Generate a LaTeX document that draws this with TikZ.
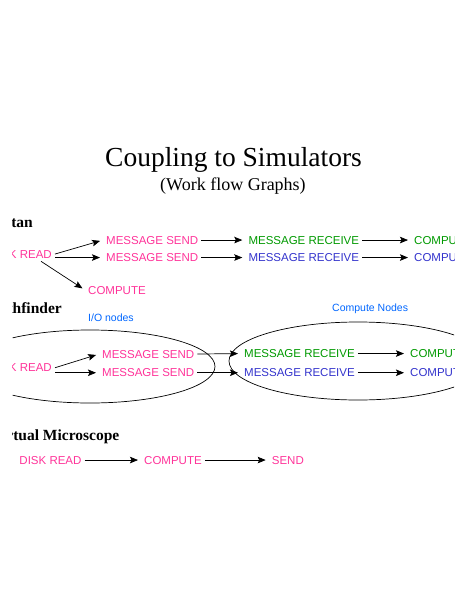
\documentclass[tikz,border=0pt]{standalone}
\usepackage{fontspec}
\setmainfont{Liberation Serif}
\setsansfont{Liberation Sans}
\usetikzlibrary{arrows.meta,shapes.geometric,calc}
\definecolor{sendpink}{RGB}{255,51,153}
\definecolor{recvgreen}{RGB}{0,153,0}
\definecolor{recvblue}{RGB}{51,51,204}
\definecolor{tagblue}{RGB}{0,102,255}

\begin{document}
\begin{tikzpicture}[x=1pt,y=-1pt,>={Stealth[length=8pt,width=6.5pt,inset=1.5pt]},
  task/.style={font=\sffamily\fontsize{11.5}{12}\selectfont,inner sep=3pt,anchor=base west},
  sendtask/.style={task,text=sendpink},
  greentask/.style={task,text=recvgreen},
  bluetask/.style={task,text=recvblue},
  head/.style={font=\bfseries\fontsize{15.5}{17}\selectfont,anchor=base east,inner sep=0pt},
  tag/.style={font=\sffamily\fontsize{10.5}{12}\selectfont,text=tagblue,anchor=base west,inner sep=0pt},
  group/.style={draw,ellipse,inner sep=0pt,line width=.7pt},
  flow/.style={->,line width=.7pt,shorten >=3pt}]
\useasboundingbox (0,0) rectangle (468,605);
\clip (12.5,0) rectangle (454,605);

\node[font=\fontsize{27.5}{30}\selectfont,anchor=base] (title) at (233.5,166) {Coupling to Simulators};
\node[font=\fontsize{18}{20}\selectfont,anchor=base] (subtitle) at (233,190) {(Work flow Graphs)};

% Titan
\node[head] (titan) at (33,227) {Titan};
\node[sendtask,anchor=base east] (rd1) at (55,258) {DISK READ};
\node[sendtask] (ms1a) at (103,244) {MESSAGE SEND};
\node[sendtask] (ms1b) at (103,261.5) {MESSAGE SEND};
\node[greentask] (mr1a) at (245.3,244) {MESSAGE RECEIVE};
\node[bluetask] (mr1b) at (245.3,261.5) {MESSAGE RECEIVE};
\node[greentask] (cp1a) at (411,244) {COMPUTE};
\node[bluetask] (cp1b) at (411,261.5) {COMPUTE};
\node[sendtask] (cmp1) at (85,294) {COMPUTE};
\draw[flow] (rd1.east) -- (ms1a.west);
\draw[flow] (rd1.east |- ms1b.west) -- (ms1b.west);
\draw[flow] ([xshift=-14pt]rd1.south east) -- (cmp1.west);
\draw[flow] (ms1a.east) -- (mr1a.west);
\draw[flow] (ms1b.east) -- (mr1b.west);
\draw[flow] (mr1a.east) -- (cp1a.west);
\draw[flow] (mr1b.east) -- (cp1b.west);

% Pathfinder
\node[head] (pathf) at (62,313) {Pathfinder};
\node[group,minimum width=250pt,minimum height=73pt] (ionodes) at (90,366.5) {};
\node[group,minimum width=258pt,minimum height=78pt] (cnodes) at (358,361) {};
\node[tag] (iotag) at (88,321) {I/O nodes};
\node[tag] (ctag) at (332,311.7) {Compute Nodes};
\node[sendtask,anchor=base east] (rd2) at (55,371.7) {DISK READ};
\node[sendtask] (ms2a) at (99,358) {MESSAGE SEND};
\node[sendtask] (ms2b) at (99,376.7) {MESSAGE SEND};
\node[greentask] (mr2a) at (241,357.5) {MESSAGE RECEIVE};
\node[bluetask] (mr2b) at (241,376.7) {MESSAGE RECEIVE};
\node[greentask] (cp2a) at (407,357.5) {COMPUTE};
\node[bluetask] (cp2b) at (407,376.7) {COMPUTE};
\draw[flow] (rd2.east) -- (ms2a.west);
\draw[flow] (rd2.east |- ms2b.west) -- (ms2b.west);
\draw[flow] (ms2a.east) -- (mr2a.west);
\draw[flow] (ms2b.east) -- (mr2b.west);
\draw[flow] (mr2a.east) -- (cp2a.west);
\draw[flow] (mr2b.east) -- (cp2b.west);

% Virtual Microscope
\node[head] (vmicro) at (119.5,440) {Virtual Microscope};
\node[sendtask] (rd3) at (16.3,464) {DISK READ};
\node[sendtask] (cp3) at (141,464) {COMPUTE};
\node[sendtask] (sd3) at (268.7,464) {SEND};
\draw[flow] (rd3.east) -- (cp3.west);
\draw[flow] (cp3.east) -- (sd3.west);
\end{tikzpicture}
\end{document}
